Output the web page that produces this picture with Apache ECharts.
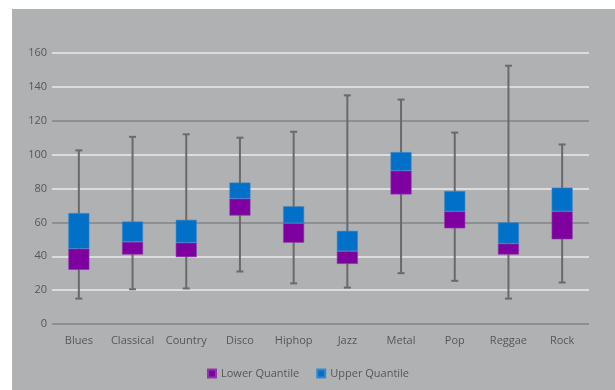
<!DOCTYPE html>
<html>
<head>
<meta charset="utf-8">
<script src="https://cdn.jsdelivr.net/npm/echarts@6/dist/echarts.min.js"></script>
<style>
  html, body { margin: 0; padding: 0; background: #ffffff; }
  #chart { width: 615px; height: 390px; }
</style>
</head>
<body>
<div id="chart"></div>
<script>
// Genre tempo distribution: whiskers (min/max) and quartile boxes
const genres = ['Blues', 'Classical', 'Country', 'Disco', 'Hiphop', 'Jazz', 'Metal', 'Pop', 'Reggae', 'Rock'];
const minValues    = [15, 20.5, 21, 31, 24, 21.5, 30, 25.5, 15, 24.5];
const q1Values     = [32, 41, 39.5, 64, 48, 35.5, 76.5, 56.5, 41, 50];
const medianValues = [44.5, 48.5, 48, 74, 59.5, 43, 90.5, 66.5, 47.5, 66.5];
const q3Values     = [65.5, 60.5, 61.5, 83.5, 69.5, 55, 101.5, 78.5, 60, 80.5];
const maxValues    = [102.5, 110.5, 112, 110, 113.5, 135, 132.5, 113, 152.5, 106];
const yTicks = { min: 0, max: 160, interval: 20 };

const lowerPart = q1Values.map((q1, i) => +(medianValues[i] - q1).toFixed(2));
const upperPart = q3Values.map((q3, i) => +(q3 - medianValues[i]).toFixed(2));
const whiskerData = genres.map((g, i) => [i, minValues[i], maxValues[i]]);

const chart = echarts.init(document.getElementById('chart'), null, { renderer: 'canvas' });
const textColor = '#575757';
const font = '"Open Sans", "Noto Sans", sans-serif';

chart.setOption({
  backgroundColor: '#ffffff',
  animation: false,
  graphic: [{
    type: 'rect', z: -10, silent: true,
    shape: { x: 12, y: 9, width: 603, height: 381 },
    style: { fill: '#b0b1b3' }
  }],
  grid: { left: 52, right: 26, top: 53, bottom: 66 },
  legend: {
    data: ['Lower Quantile', 'Upper Quantile'],
    left: 202, top: 363,
    icon: 'rect', itemWidth: 8, itemHeight: 8, itemGap: 17,
    textStyle: { color: textColor, fontSize: 11, fontFamily: font, padding: [0, 0, 0, 0] }
  },
  xAxis: {
    type: 'category',
    data: genres,
    axisLine: { show: false },
    axisTick: { show: false },
    axisLabel: { interval: 0, color: textColor, fontSize: 11, fontFamily: font, margin: 11 }
  },
  yAxis: {
    type: 'value',
    min: yTicks.min, max: yTicks.max, interval: yTicks.interval,
    axisLine: { show: false },
    axisTick: { show: false },
    axisLabel: { color: textColor, fontSize: 11, fontFamily: font, margin: 5 },
    splitLine: { lineStyle: { color: ['#8e8f91', '#dcdcdc', '#dcdcdc'], width: 2 } }
  },
  series: [
    {
      name: 'whiskers',
      type: 'custom',
      z: 1,
      data: whiskerData,
      encode: { x: 0, y: [1, 2] },
      renderItem: function (params, api) {
        const x = api.value(0);
        const lo = api.coord([x, api.value(1)]);
        const hi = api.coord([x, api.value(2)]);
        const cap = 3.5;
        const style = { stroke: '#6a6a6a', lineWidth: 2 };
        return {
          type: 'group',
          children: [
            { type: 'line', shape: { x1: lo[0], y1: lo[1], x2: hi[0], y2: hi[1] }, style: style },
            { type: 'line', shape: { x1: lo[0] - cap, y1: lo[1], x2: lo[0] + cap, y2: lo[1] }, style: style },
            { type: 'line', shape: { x1: hi[0] - cap, y1: hi[1], x2: hi[0] + cap, y2: hi[1] }, style: style }
          ]
        };
      }
    },
    {
      name: 'base',
      type: 'bar',
      stack: 'box',
      z: 2,
      barWidth: 21,
      data: q1Values,
      itemStyle: { color: 'rgba(0,0,0,0)' },
      silent: true
    },
    {
      name: 'Lower Quantile',
      type: 'bar',
      stack: 'box',
      z: 3,
      barWidth: 21,
      data: lowerPart,
      itemStyle: { color: '#7f00a0', borderColor: '#8a3aa8', borderWidth: 0.6 }
    },
    {
      name: 'Upper Quantile',
      type: 'bar',
      stack: 'box',
      z: 3,
      barWidth: 21,
      data: upperPart,
      itemStyle: { color: '#0070c8', borderColor: '#3a86c8', borderWidth: 0.6 }
    }
  ]
});
</script>
</body>
</html>
